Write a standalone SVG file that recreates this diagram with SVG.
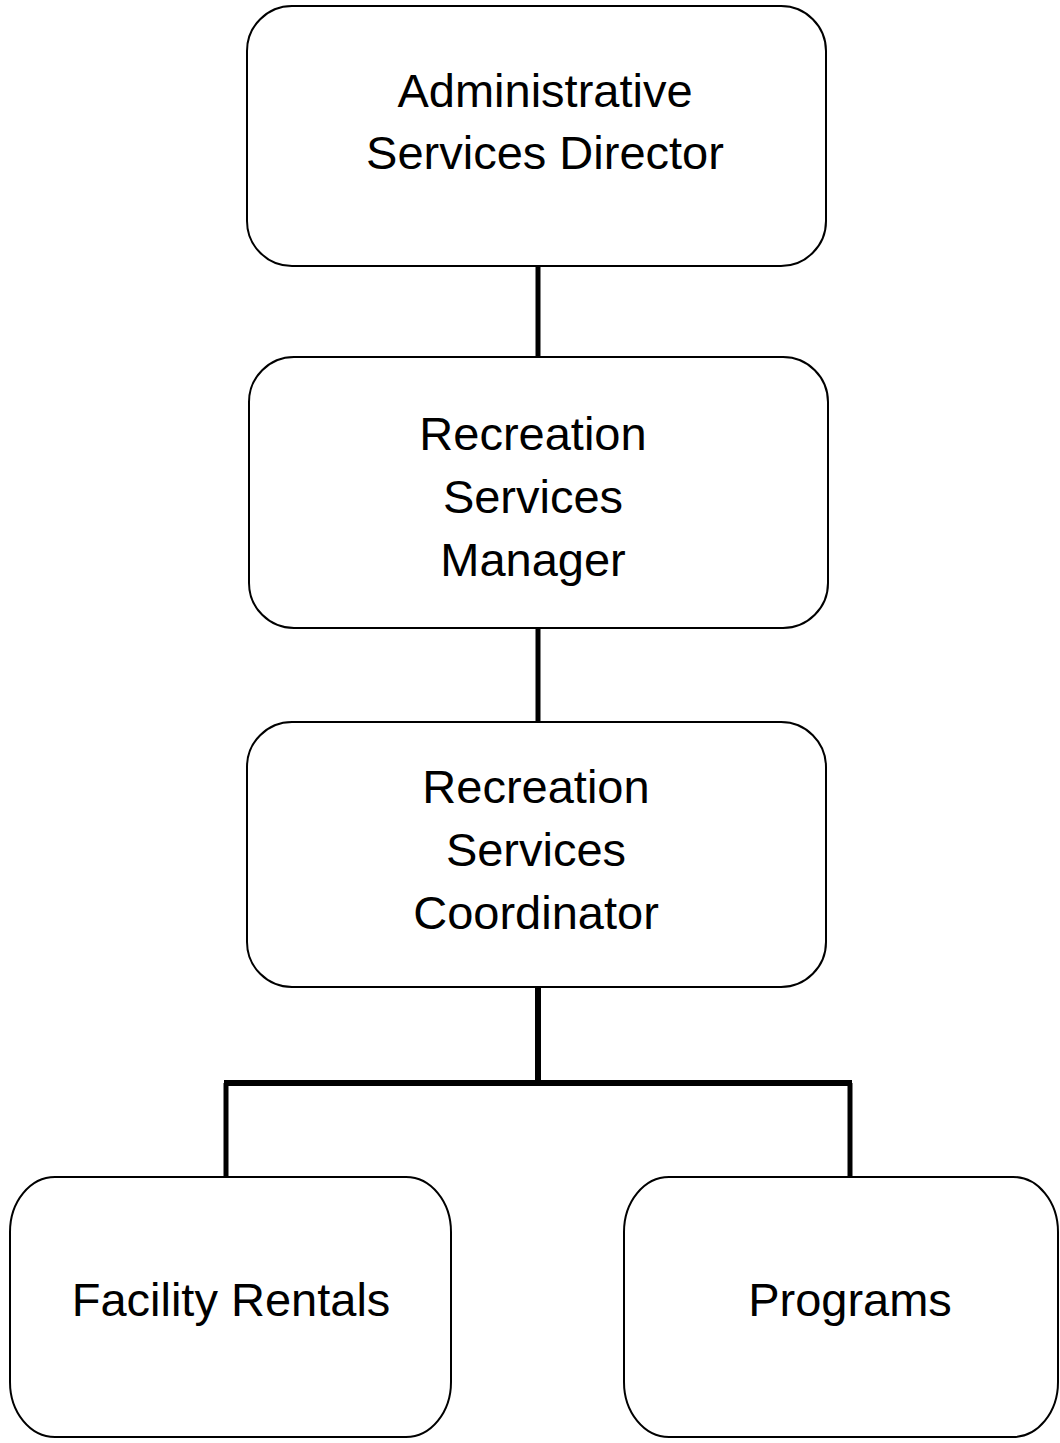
<svg xmlns="http://www.w3.org/2000/svg" width="1060" height="1443" viewBox="0 0 1060 1443">
  <style>
    .box { fill: #ffffff; stroke: #000000; stroke-width: 2; }
    .label { font-family: "Liberation Sans", Arial, sans-serif; font-size: 47px; fill: #000000; text-anchor: middle; }
    .wire { stroke: #000000; fill: none; stroke-linecap: butt; }
  </style>
  <rect width="1060" height="1443" fill="#ffffff"/>

  <!-- reporting lines -->
  <g id="connectors">
    <line class="wire" x1="538" y1="266" x2="538" y2="357" stroke-width="5"/>
    <line class="wire" x1="538" y1="628" x2="538" y2="722" stroke-width="5"/>
    <line class="wire" x1="538" y1="987" x2="538" y2="1083" stroke-width="6"/>
    <line class="wire" x1="224" y1="1083" x2="852" y2="1083" stroke-width="6"/>
    <line class="wire" x1="226" y1="1083" x2="226" y2="1177" stroke-width="5"/>
    <line class="wire" x1="850" y1="1083" x2="850" y2="1177" stroke-width="5"/>
  </g>

  <g id="director">
    <rect class="box" x="247" y="6" width="579" height="260" rx="45" ry="45"/>
    <text class="label" x="545" y="107">Administrative</text>
    <text class="label" x="545" y="169">Services Director</text>
  </g>

  <g id="manager">
    <rect class="box" x="249" y="357" width="579" height="271" rx="45" ry="45"/>
    <text class="label" x="533" y="450">Recreation</text>
    <text class="label" x="533" y="513">Services</text>
    <text class="label" x="533" y="576">Manager</text>
  </g>

  <g id="coordinator">
    <rect class="box" x="247" y="722" width="579" height="265" rx="45" ry="45"/>
    <text class="label" x="536" y="803">Recreation</text>
    <text class="label" x="536" y="866">Services</text>
    <text class="label" x="536" y="929">Coordinator</text>
  </g>

  <g id="facility-rentals">
    <rect class="box" x="10" y="1177" width="441" height="260" rx="45" ry="55"/>
    <text class="label" x="231" y="1316">Facility Rentals</text>
  </g>

  <g id="programs">
    <rect class="box" x="624" y="1177" width="434" height="260" rx="45" ry="55"/>
    <text class="label" x="850" y="1316">Programs</text>
  </g>
</svg>
